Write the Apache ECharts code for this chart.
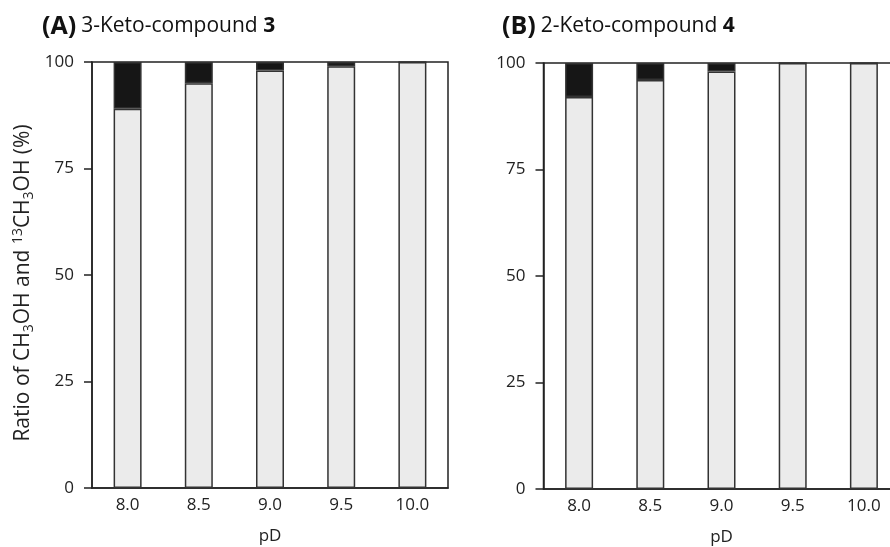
<!DOCTYPE html>
<html><head><meta charset="utf-8">
<script src="https://cdn.jsdelivr.net/npm/echarts@6/dist/echarts.min.js"></script>
<style>html,body{margin:0;padding:0;background:#fff}#c{width:890px;height:547px}</style>
</head><body><div id="c"></div>
<script>
const pD = ['8.0','8.5','9.0','9.5','10.0'];
const yTicks = [0,25,50,75,100];
// Panel A: 3-Keto-compound 3
const lightA = [89,95,98,99,100];
const darkA  = [11,5,2,1,0];
// Panel B: 2-Keto-compound 4
const lightB = [92,96,98,100,100];
const darkB  = [8,4,2,0,0];

const FONT = '"Open Sans", "Noto Sans", sans-serif';
const LINE = '#222';
const chart = echarts.init(document.getElementById('c'), null, {renderer:'canvas'});

function xAxis(idx){
  return {
    type:'category', gridIndex:idx, data:pD,
    axisLine:{show:true, lineStyle:{color:LINE, width:1.5}},
    axisTick:{show:false},
    axisLabel:{color:'#222', fontSize:17, fontFamily:FONT, margin:9},
    name:'pD', nameLocation:'middle', nameGap:40,
    nameTextStyle:{color:'#222', fontSize:17, fontFamily:FONT}
  };
}
function yAxis(idx, withName){
  const a = {
    type:'value', gridIndex:idx, min:0, max:100, interval:25,
    axisLine:{show:true, lineStyle:{color:LINE, width:1.5}},
    axisTick:{show:true, inside:false, length:8, lineStyle:{color:LINE, width:1.5}},
    splitLine:{show:false},
    axisLabel:{color:'#222', fontSize:17, fontFamily:FONT, margin:18}
  };
  if (withName){
    a.name = '{n|Ratio of CH}{s|3}{n|OH and }{p|13}{n|CH}{s|3}{n|OH (%)}';
    a.nameLocation = 'middle';
    a.nameGap = 56;
    a.nameRotate = 90;
    a.nameTextStyle = {
      color:'#222', fontFamily:FONT, padding:[0,16,0,0],
      rich:{
        n:{fontSize:21, fontFamily:FONT, color:'#222', lineHeight:25},
        s:{fontSize:14, fontFamily:FONT, color:'#222', lineHeight:14, verticalAlign:'bottom', padding:[7,0,0,0]},
        p:{fontSize:14, fontFamily:FONT, color:'#222', lineHeight:14, verticalAlign:'top', padding:[0,0,7,0]}
      }
    };
  }
  return a;
}
function barSeries(idx, data, color, stack){
  return {
    type:'bar', xAxisIndex:idx, yAxisIndex:idx, stack:stack, data:data,
    barWidth:28, silent:true,
    itemStyle:{color:color, borderColor:'#333', borderWidth:1.5}
  };
}
function title(left, letter, name, num){
  return {
    left:left, top:14, padding:0,
    text:'{b|(' + letter + ')} {n|' + name + ' }{bn|' + num + '}',
    textStyle:{
      fontWeight:'normal',
      rich:{
        b:{fontSize:25, fontWeight:'bold', fontFamily:FONT, color:'#111'},
        n:{fontSize:21, fontWeight:'normal', fontFamily:FONT, color:'#111'},
        bn:{fontSize:21, fontWeight:'bold', fontFamily:FONT, color:'#111'}
      }
    }
  };
}

chart.setOption({
  animation:false,
  backgroundColor:'#fff',
  title:[ title(42,'A','3-Keto-compound','3'), title(502,'B','2-Keto-compound','4') ],
  grid:[
    {left:92, top:62, width:356, height:426, outerBoundsMode:'none', containLabel:false, show:true, borderColor:LINE, borderWidth:1.5, backgroundColor:'transparent'},
    {left:543.5, top:63, width:356, height:426, outerBoundsMode:'none', containLabel:false, show:true, borderColor:LINE, borderWidth:1.5, backgroundColor:'transparent'}
  ],
  xAxis:[ xAxis(0), xAxis(1) ],
  yAxis:[ yAxis(0,true), yAxis(1,false) ],
  series:[
    barSeries(0, lightA, '#ebebeb', 'a'),
    barSeries(0, darkA, '#161616', 'a'),
    barSeries(1, lightB, '#ebebeb', 'b'),
    barSeries(1, darkB, '#161616', 'b')
  ]
});
</script></body></html>
